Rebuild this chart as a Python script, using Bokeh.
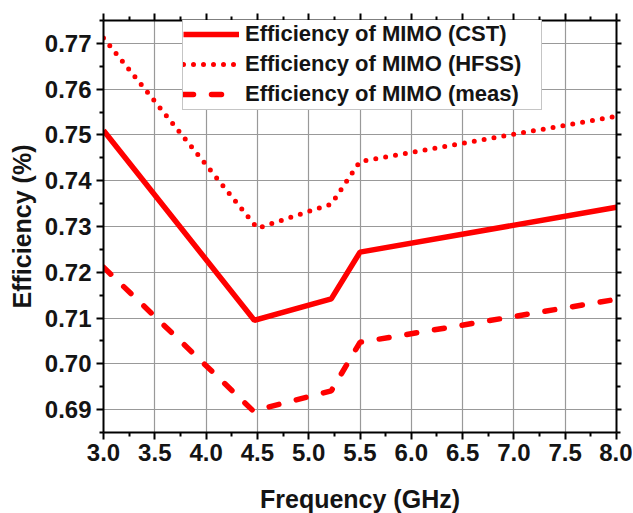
from bokeh.plotting import figure
from bokeh.models import (LinearAxis, FixedTicker, Range1d, Legend, LegendItem,
                          NumeralTickFormatter, CustomJSTickFormatter)
from bokeh.embed import file_html
from bokeh.resources import INLINE

# data
freq_cst = [3.0, 4.47, 5.22, 5.5, 8.0]
eff_cst = [0.7510, 0.7095, 0.7142, 0.7244, 0.7342]
freq_hfss = [3.0, 4.5, 5.22, 5.5, 8.0]
eff_hfss = [0.7712, 0.7296, 0.7349, 0.7442, 0.7541]
freq_meas = [3.0, 4.46, 5.22, 5.5, 8.0]
eff_meas = [0.7211, 0.6897, 0.6941, 0.7047, 0.7141]

x_ticks = [3.0, 3.5, 4.0, 4.5, 5.0, 5.5, 6.0, 6.5, 7.0, 7.5, 8.0]
x_minor = [3.25, 3.75, 4.25, 4.75, 5.25, 5.75, 6.25, 6.75, 7.25, 7.75]
y_ticks = [0.69, 0.70, 0.71, 0.72, 0.73, 0.74, 0.75, 0.76, 0.77]
y_minor = [0.685, 0.695, 0.705, 0.715, 0.725, 0.735, 0.745, 0.755, 0.765, 0.775]

labels = ["Efficiency of MIMO (CST)", "Efficiency of MIMO (HFSS)", "Efficiency of MIMO (meas)"]

FONT = "Liberation Sans"
RED = "#ff0000"
TXT = "#141414"

p = figure(frame_width=513, frame_height=412, output_backend="svg", toolbar_location=None,
           x_range=Range1d(3.0, 8.0), y_range=Range1d(0.685, 0.775),
           min_border_left=103, min_border_right=16, min_border_top=20, min_border_bottom=80)
p.outline_line_color = None
p.background_fill_color = "white"

r1 = p.line(freq_cst, eff_cst, line_color=RED, line_width=5.5)
r2 = p.line(freq_hfss, eff_hfss, line_color=RED, line_width=5, line_dash="0 10", line_cap="round")
r3 = p.line(freq_meas, eff_meas, line_color=RED, line_width=5.5, line_dash="10 18", line_cap="round")

xt = FixedTicker(ticks=x_ticks, minor_ticks=x_minor)
yt = FixedTicker(ticks=y_ticks, minor_ticks=y_minor)

def style_axis(ax, show_labels):
    ax.axis_line_width = 2
    ax.axis_line_color = "black"
    ax.major_tick_line_width = 2
    ax.minor_tick_line_width = 2
    ax.major_tick_line_color = "black"
    ax.minor_tick_line_color = "black"
    ax.major_tick_out = 7
    ax.major_tick_in = 0
    ax.minor_tick_out = 4
    ax.minor_tick_in = 0
    if show_labels:
        ax.major_label_text_font = FONT
        ax.major_label_text_font_style = "bold"
        ax.major_label_text_font_size = "24px"
        ax.major_label_text_color = TXT
        ax.axis_label_text_font = FONT
        ax.axis_label_text_font_style = "bold"
        ax.axis_label_text_font_size = "25px"
        ax.axis_label_text_color = TXT
    else:
        ax.formatter = CustomJSTickFormatter(code="return ''")
        ax.major_label_standoff = 0
        ax.axis_label_standoff = 0

xa = p.xaxis[0]
xa.ticker = xt
xa.formatter = NumeralTickFormatter(format="0.0")
xa.axis_label = "Frequency (GHz)"
style_axis(xa, True)
xa.major_label_standoff = 4
xa.axis_label_standoff = 21

ya = p.yaxis[0]
ya.ticker = yt
ya.formatter = NumeralTickFormatter(format="0.00")
ya.axis_label = "Efficiency (%)"
style_axis(ya, True)
ya.major_label_standoff = 5
ya.axis_label_standoff = 6

top = LinearAxis(ticker=FixedTicker(ticks=x_ticks, minor_ticks=x_minor))
style_axis(top, False)
p.add_layout(top, "above")
right = LinearAxis(ticker=FixedTicker(ticks=y_ticks, minor_ticks=y_minor))
style_axis(right, False)
right.major_tick_out = 5
p.add_layout(right, "right")

p.xgrid.ticker = xt
p.ygrid.ticker = yt
p.xgrid.grid_line_color = "#999999"
p.ygrid.grid_line_color = "#999999"
p.xgrid.grid_line_width = 1.2
p.ygrid.grid_line_width = 1.2

legend = Legend(items=[LegendItem(label=labels[0], renderers=[r1]),
                       LegendItem(label=labels[1], renderers=[r2]),
                       LegendItem(label=labels[2], renderers=[r3])],
                location=(79, 322))
legend.padding = 0
legend.spacing = 0
legend.margin = 0
legend.glyph_width = 56
legend.glyph_height = 30
legend.label_height = 30
legend.label_width = 296
legend.label_standoff = 6
legend.label_text_font = FONT
legend.label_text_font_style = "bold"
legend.label_text_font_size = "22px"
legend.label_text_color = TXT
legend.border_line_color = "#8c8c8c"
legend.border_line_width = 1
legend.background_fill_color = "white"
legend.background_fill_alpha = 1
p.add_layout(legend, "center")

open("out.html", "w").write(file_html(p, INLINE))
